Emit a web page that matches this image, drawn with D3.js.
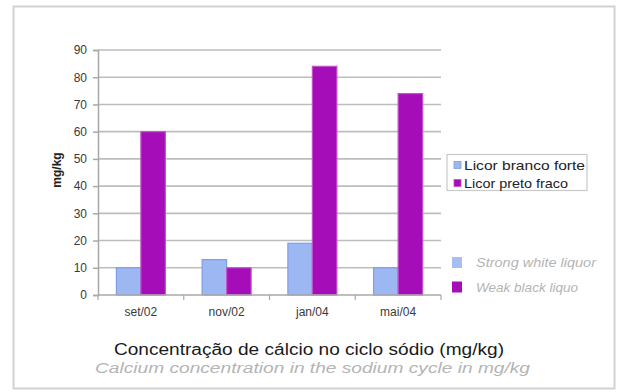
<!DOCTYPE html>
<html>
<head>
<meta charset="utf-8">
<script src="https://cdn.jsdelivr.net/npm/d3@7"></script>
<style>
  html, body { margin: 0; padding: 0; background: #fff; }
  svg { display: block; font-family: "Liberation Sans", Arial, sans-serif; }
</style>
</head>
<body>
<svg id="chart" width="619" height="392"></svg>
<script>
// Calcium concentration in the sodium cycle (mg/kg)
const categories = ["set/02", "nov/02", "jan/04", "mai/04"];
const seriesNames = ["Licor branco forte", "Licor preto fraco"];
const seriesNamesEn = ["Strong white liquor", "Weak black liquo"];
const whiteLiquor = [10, 13, 19, 10];
const blackLiquor = [60, 10, 84, 74];
const yTicks = [0, 10, 20, 30, 40, 50, 60, 70, 80, 90];
const titlePt = "Concentração de cálcio no ciclo sódio (mg/kg)";
const titleEn = "Calcium concentration in the sodium cycle in mg/kg";
const yLabel = "mg/kg";

const fills = ["#9db7f3", "#a40db8"];
const strokes = ["#7e9ee6", "#c453c9"];

const svg = d3.select("#chart");
const W = 619, H = 392;
svg.append("rect").attr("width", W).attr("height", H).attr("fill", "#fff");

// outer frame
svg.append("rect")
  .attr("x", 13.5).attr("y", 6.5).attr("width", 601).attr("height", 382)
  .attr("fill", "none").attr("stroke", "#d2d2d2").attr("stroke-width", 2);

const plot = { left: 98, right: 441, top: 50, bottom: 295 };

const y = d3.scaleLinear().domain([0, 90]).range([plot.bottom, plot.top]);
const x0 = d3.scaleBand().domain(categories).range([plot.left, plot.right]).padding(0);
const gap = x0.bandwidth() * 1.5 / 3.5;
const x1 = d3.scaleBand().domain([0, 1]).range([gap / 2, x0.bandwidth() - gap / 2]).padding(0);

// horizontal gridlines
svg.append("g").selectAll("line").data(yTicks.filter(d => d > 0)).join("line")
  .attr("x1", plot.left).attr("x2", plot.right)
  .attr("y1", d => y(d)).attr("y2", d => y(d))
  .attr("stroke", "#bdbdbd").attr("stroke-width", 1.6);

// y axis
const yAxis = svg.append("g").attr("transform", `translate(${plot.left},0)`)
  .call(d3.axisLeft(y).tickValues(yTicks).tickSize(5).tickPadding(6));
yAxis.select(".domain").attr("stroke", "#a8a8a8").attr("stroke-width", 1.5);
yAxis.selectAll(".tick line").attr("stroke", "#a8a8a8").attr("stroke-width", 1.5);
yAxis.selectAll(".tick text")
  .attr("font-size", 12).attr("fill", "#3a3a3a")
  .attr("font-family", "'Liberation Sans', Arial, sans-serif");

// bars
const rows = categories.map((c, i) => ({ cat: c, vals: [whiteLiquor[i], blackLiquor[i]] }));
const groups = svg.append("g").selectAll("g").data(rows).join("g")
  .attr("transform", d => `translate(${x0(d.cat)},0)`);
groups.selectAll("rect").data(d => d.vals.map((v, k) => ({ v, k }))).join("rect")
  .attr("x", d => x1(d.k))
  .attr("width", x1.bandwidth())
  .attr("y", d => y(d.v))
  .attr("height", d => y(0) - y(d.v))
  .attr("fill", d => fills[d.k])
  .attr("stroke", d => strokes[d.k])
  .attr("stroke-width", 1.2);

// x axis
const xAxisG = svg.append("g").attr("transform", `translate(0,${plot.bottom})`);
xAxisG.append("line").attr("x1", plot.left).attr("x2", plot.right)
  .attr("stroke", "#a8a8a8").attr("stroke-width", 1.5);
xAxisG.selectAll("line.tk").data(d3.range(categories.length + 1)).join("line")
  .attr("class", "tk")
  .attr("x1", i => plot.left + i * x0.step()).attr("x2", i => plot.left + i * x0.step())
  .attr("y1", 0).attr("y2", 5).attr("stroke", "#a8a8a8").attr("stroke-width", 1.2);
xAxisG.selectAll("text").data(categories).join("text")
  .attr("x", d => x0(d) + x0.bandwidth() / 2)
  .attr("y", 21)
  .attr("text-anchor", "middle")
  .attr("font-size", 12).attr("fill", "#3a3a3a")
  .text(d => d);

// y axis title
svg.append("text")
  .attr("transform", "translate(61,170) rotate(-90)")
  .attr("text-anchor", "middle")
  .attr("font-size", 12).attr("font-weight", "bold").attr("fill", "#222")
  .text(yLabel);

// legend (Portuguese)
const lg = svg.append("g");
lg.append("rect").attr("x", 447).attr("y", 154.5).attr("width", 140).attr("height", 36)
  .attr("fill", "#fff").attr("stroke", "#c8c8c8").attr("stroke-width", 1.2);
seriesNames.forEach((name, k) => {
  const cy = 165 + k * 18;
  lg.append("rect").attr("x", 454).attr("y", cy - 3.5).attr("width", 7).attr("height", 7)
    .attr("fill", fills[k]).attr("stroke", strokes[k]).attr("stroke-width", 0.8);
  lg.append("text").attr("x", 464).attr("y", cy + 4.5)
    .attr("font-size", 13).attr("fill", "#222")
    .attr("textLength", k === 0 ? 121 : 104).attr("lengthAdjust", "spacingAndGlyphs")
    .text(name);
});

// legend (English)
seriesNamesEn.forEach((name, k) => {
  const cy = 262.5 + k * 24.5;
  svg.append("rect").attr("x", 452).attr("y", cy - 5.5).attr("width", 10).attr("height", 11)
    .attr("fill", fills[k]).attr("opacity", k === 0 ? 0.9 : 1);
  svg.append("text").attr("x", 476).attr("y", cy + 4.5)
    .attr("font-size", 13).attr("font-style", "italic").attr("fill", "#b4b4b4")
    .attr("textLength", k === 0 ? 120 : 102).attr("lengthAdjust", "spacingAndGlyphs")
    .text(name);
});

// titles
svg.append("text").attr("x", 309).attr("y", 355)
  .attr("text-anchor", "middle").attr("font-size", 16).attr("fill", "#1a1a1a")
  .attr("textLength", 390).attr("lengthAdjust", "spacingAndGlyphs")
  .text(titlePt);
svg.append("text").attr("x", 312.5).attr("y", 373)
  .attr("text-anchor", "middle").attr("font-size", 15).attr("font-style", "italic")
  .attr("fill", "#b4b4b4")
  .attr("textLength", 435).attr("lengthAdjust", "spacingAndGlyphs")
  .text(titleEn);
</script>
</body>
</html>
